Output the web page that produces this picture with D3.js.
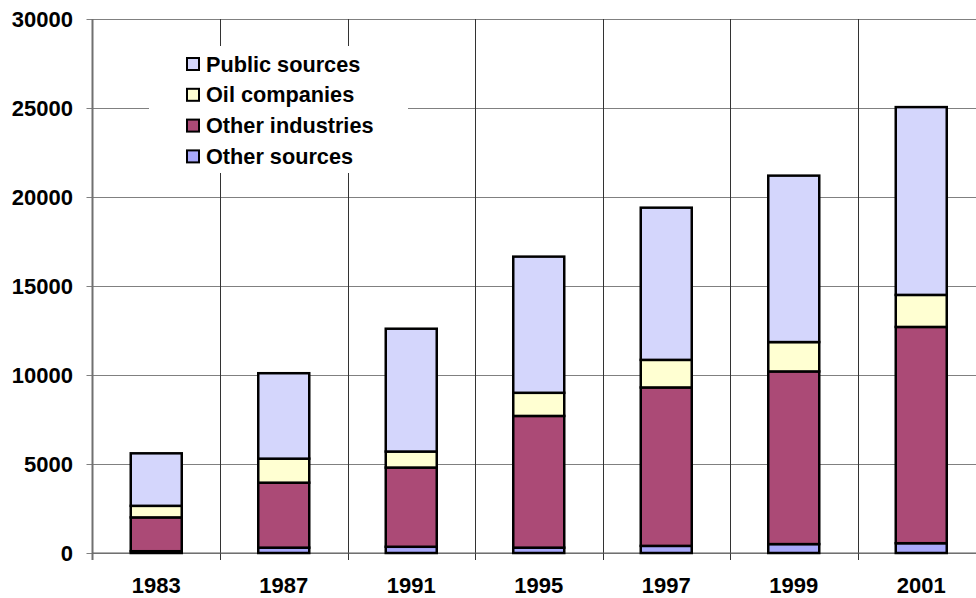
<!DOCTYPE html>
<html>
<head>
<meta charset="utf-8">
<script src="https://cdn.jsdelivr.net/npm/d3@7"></script>
<style>
  html, body { margin: 0; padding: 0; background: #fff; }
  svg { display: block; }
  text { font-family: "Liberation Sans", Arial, sans-serif; font-weight: bold; fill: #000; }
</style>
</head>
<body>
<svg id="chart" width="976" height="598"></svg>
<script>
const years = ['1983', '1987', '1991', '1995', '1997', '1999', '2001'];
const otherSources    = [100, 300, 350, 300, 400, 500, 550];
const otherIndustries = [1900, 3650, 4450, 7400, 8900, 9700, 12150];
const oilCompanies    = [650, 1350, 900, 1300, 1550, 1650, 1800];
const publicSources   = [2950, 4800, 6900, 7650, 8550, 9350, 10550];
const yTicks = [0, 5000, 10000, 15000, 20000, 25000, 30000];

const seriesNames  = ['Other sources', 'Other industries', 'Oil companies', 'Public sources'];
const seriesValues = [otherSources, otherIndustries, oilCompanies, publicSources];
const seriesColors = ['#A8A8FA', '#AB4A76', '#FFFFD2', '#D4D6FC'];

const rows = years.map((yr, i) => {
  const r = { year: yr };
  seriesNames.forEach((n, k) => r[n] = seriesValues[k][i]);
  return r;
});
const stacked = d3.stack().keys(seriesNames)(rows);

const svg = d3.select('#chart');
const pLeft = 92.5, pRight = 985, pTop = 19, pBottom = 553;

const x = d3.scaleBand().domain(years).range([pLeft, pRight]).paddingInner(0.6).paddingOuter(0.3);
const y = d3.scaleLinear().domain([0, 30000]).range([pBottom, pTop]);
const step = x.step();

// horizontal gridlines
svg.append('g').selectAll('line').data(yTicks).join('line')
  .attr('x1', pLeft - 6).attr('x2', pRight)
  .attr('y1', d => Math.round(y(d)) + 0.5).attr('y2', d => Math.round(y(d)) + 0.5)
  .attr('stroke', '#808080').attr('stroke-width', 1.2);

// vertical gridlines (category boundaries)
const bounds = years.slice(0, -1).map(d => x(d) + x.bandwidth() / 2 + step / 2);
svg.append('g').selectAll('line').data(bounds).join('line')
  .attr('x1', d => Math.round(d) + 0.5).attr('x2', d => Math.round(d) + 0.5)
  .attr('y1', pTop).attr('y2', pBottom + 7)
  .attr('stroke', '#333').attr('stroke-width', 1);

// left axis line
svg.append('line')
  .attr('x1', pLeft).attr('x2', pLeft).attr('y1', pTop).attr('y2', pBottom + 7)
  .attr('stroke', '#707070').attr('stroke-width', 2);

// bottom axis line
svg.append('line')
  .attr('x1', pLeft).attr('x2', pRight).attr('y1', pBottom).attr('y2', pBottom)
  .attr('stroke', '#606060').attr('stroke-width', 1.2);

// legend background
const lg = svg.append('g');
lg.append('rect').attr('x', 149).attr('y', 46).attr('width', 259).attr('height', 127).attr('fill', '#fff');

// bars
svg.append('g').selectAll('g').data(stacked).join('g')
  .attr('fill', (d, i) => seriesColors[i])
  .selectAll('rect').data(d => d).join('rect')
  .attr('x', d => x(d.data.year))
  .attr('width', x.bandwidth())
  .attr('y', d => y(d[1]))
  .attr('height', d => y(d[0]) - y(d[1]))
  .attr('stroke', '#000').attr('stroke-width', 2.5);

// y axis labels
svg.append('g').selectAll('text').data(yTicks).join('text')
  .attr('x', 73).attr('y', d => y(d) + 8)
  .attr('text-anchor', 'end').attr('font-size', 22)
  .text(d => d);

// x axis labels
svg.append('g').selectAll('text').data(years).join('text')
  .attr('x', d => x(d) + x.bandwidth() / 2).attr('y', 593)
  .attr('text-anchor', 'middle').attr('font-size', 22)
  .text(d => d);

// legend items (top to bottom: reverse stack order)
const legendOrder = [3, 2, 1, 0];
const item = lg.selectAll('g.item').data(legendOrder).join('g').attr('class', 'item')
  .attr('transform', (d, i) => `translate(0, ${64 + i * 30.8})`);
item.append('rect').attr('x', 187).attr('y', -6).attr('width', 12).attr('height', 12)
  .attr('fill', d => seriesColors[d]).attr('stroke', '#000').attr('stroke-width', 2);
item.append('text').attr('x', 206).attr('y', 7.5).attr('font-size', 21.7)
  .text(d => seriesNames[d]);
</script>
</body>
</html>
